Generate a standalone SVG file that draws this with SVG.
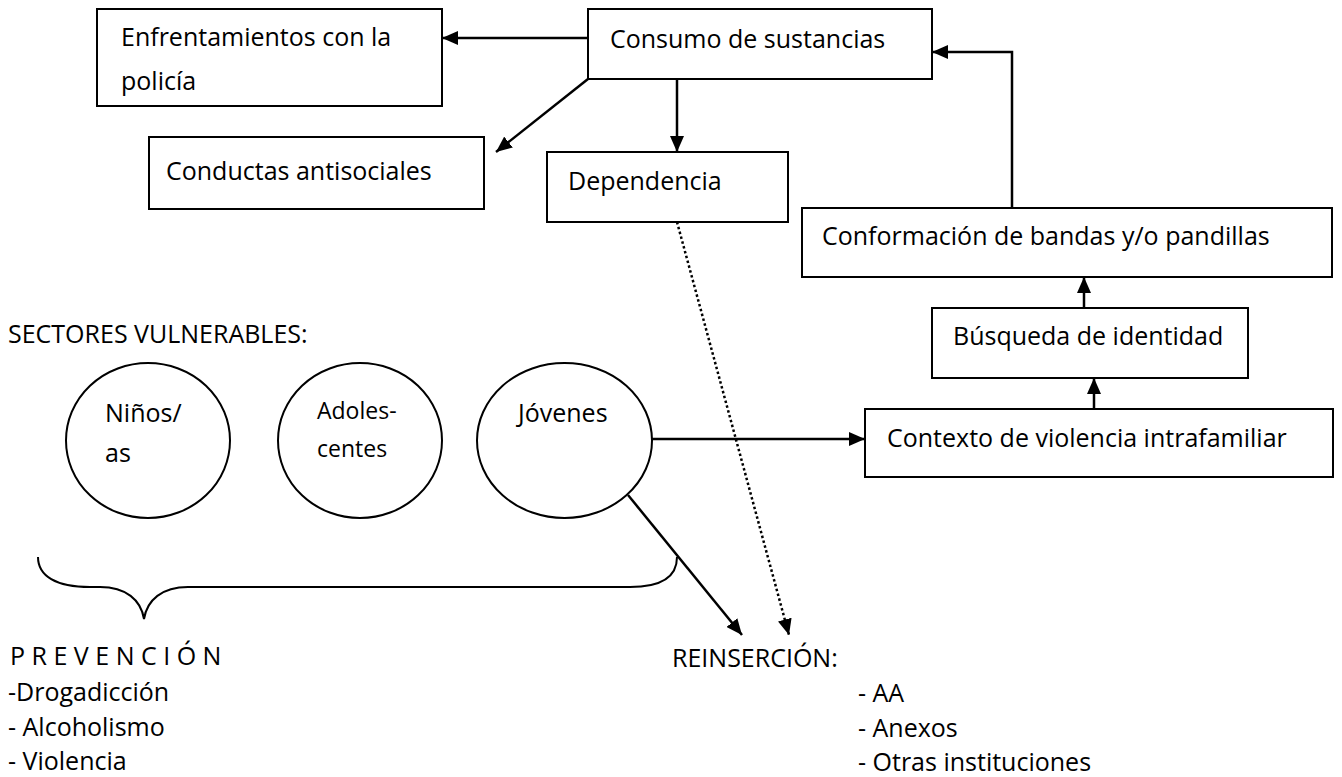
<svg xmlns="http://www.w3.org/2000/svg" width="1342" height="777" viewBox="0 0 1342 777">
  <defs>
    <marker id="ah" markerUnits="userSpaceOnUse" markerWidth="16" markerHeight="14" refX="16" refY="7" orient="auto">
      <path d="M0,0 L16,7 L0,14 Z" fill="#000"/>
    </marker>
    <style>
      .box { fill: #fff; stroke: #000; stroke-width: 2; }
      .circ { fill: #fff; stroke: #000; stroke-width: 2; }
      .t { font-family: "Open Sans", "Liberation Sans", sans-serif; font-size: 25px; fill: #000; }
      .ts { font-family: "Open Sans", "Liberation Sans", sans-serif; font-size: 23px; fill: #000; }
      .arr { fill: none; stroke: #000; stroke-width: 2.5; marker-end: url(#ah); }
      .dot { fill: none; stroke: #000; stroke-width: 2.5; stroke-dasharray: 2.5 2.5; marker-end: url(#ah); }
      .brace { fill: none; stroke: #000; stroke-width: 2; }
    </style>
  </defs>
  <rect width="1342" height="777" fill="#fff"/>

  <g id="connectors">
    <line class="arr" x1="588" y1="38" x2="442" y2="38"/>
    <line class="arr" x1="588" y1="79" x2="496" y2="152"/>
    <line class="arr" x1="677" y1="79" x2="677" y2="152"/>
    <polyline class="arr" points="1012,208 1012,52 932,52"/>
    <line class="arr" x1="1084" y1="308" x2="1084" y2="277"/>
    <line class="arr" x1="1094" y1="409" x2="1094" y2="378"/>
    <line class="arr" x1="652" y1="439" x2="865" y2="439"/>
    <line class="arr" x1="628" y1="495" x2="742" y2="635"/>
    <line class="dot" x1="677" y1="222" x2="789" y2="635"/>
  </g>

  <g id="enfrentamientos">
    <rect class="box" x="97" y="9" width="345" height="97"/>
    <text class="t" x="121" y="46">Enfrentamientos con la</text>
    <text class="t" x="121" y="90">policía</text>
  </g>
  <g id="consumo">
    <rect class="box" x="588" y="9" width="344" height="70"/>
    <text class="t" x="610" y="48">Consumo de sustancias</text>
  </g>
  <g id="conductas">
    <rect class="box" x="149" y="137" width="335" height="72"/>
    <text class="t" x="166" y="180">Conductas antisociales</text>
  </g>
  <g id="dependencia">
    <rect class="box" x="547" y="152" width="241" height="70"/>
    <text class="t" x="568" y="190">Dependencia</text>
  </g>
  <g id="conformacion">
    <rect class="box" x="802" y="208" width="530" height="69"/>
    <text class="t" x="822" y="245">Conformación de bandas y/o pandillas</text>
  </g>
  <g id="busqueda">
    <rect class="box" x="932" y="308" width="316" height="70"/>
    <text class="t" x="953" y="345">Búsqueda de identidad</text>
  </g>
  <g id="contexto">
    <rect class="box" x="865" y="409" width="468" height="68"/>
    <text class="t" x="887" y="447">Contexto de violencia intrafamiliar</text>
  </g>

  <g id="sectores">
    <text class="t" x="8" y="343">SECTORES VULNERABLES:</text>
  </g>
  <g id="ninos">
    <ellipse class="circ" cx="148" cy="440.5" rx="82" ry="77.5"/>
    <text class="t" x="105" y="422">Niños/</text>
    <text class="t" x="105" y="462">as</text>
  </g>
  <g id="adolescentes">
    <ellipse class="circ" cx="360" cy="440.5" rx="82" ry="77.5"/>
    <text class="ts" x="317" y="419">Adoles-</text>
    <text class="ts" x="317" y="457">centes</text>
  </g>
  <g id="jovenes">
    <ellipse class="circ" cx="564.5" cy="440.5" rx="87.5" ry="77.5"/>
    <text class="t" x="518" y="422">Jóvenes</text>
  </g>

  <g id="brace">
    <path class="brace" d="M38,557 C38,576 56,587 90,587 L100,587 C126,587 141,600 144,619 C147,600 162,587 188,587 L630,587 C662,587 677,576 677,557"/>
  </g>

  <g id="prevencion">
    <text class="t" x="10" y="665">P R E V E N C I Ó N</text>
    <text class="t" x="8" y="701">-Drogadicción</text>
    <text class="t" x="8" y="736">- Alcoholismo</text>
    <text class="t" x="8" y="770">- Violencia</text>
  </g>
  <g id="reinsercion">
    <text class="t" x="672" y="667">REINSERCIÓN:</text>
    <text class="t" x="858" y="702">- AA</text>
    <text class="t" x="858" y="737">- Anexos</text>
    <text class="t" x="858" y="771">- Otras instituciones</text>
  </g>
</svg>
